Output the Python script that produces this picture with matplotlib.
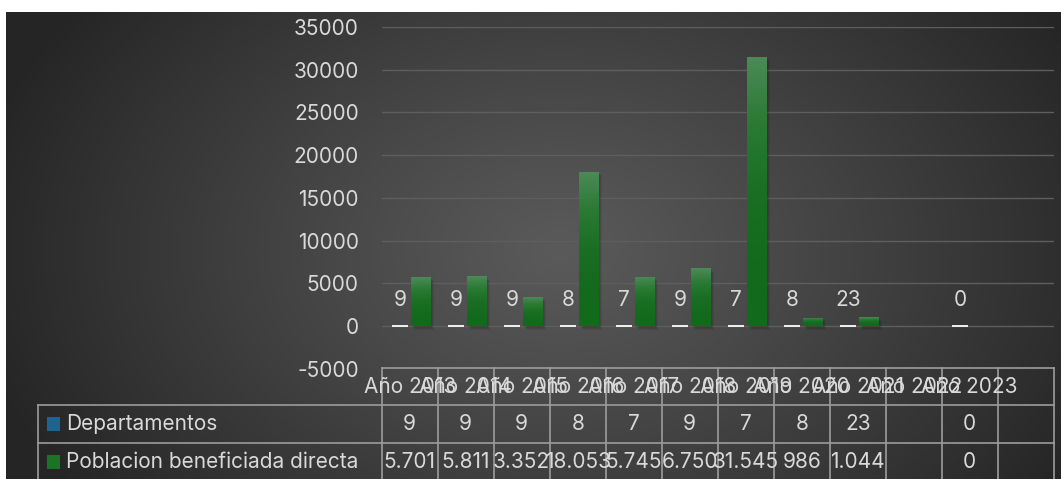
import numpy as np
import matplotlib
matplotlib.use('Agg')
import matplotlib.pyplot as plt
from matplotlib.transforms import blended_transform_factory, offset_copy
from matplotlib.patches import Rectangle
from matplotlib.colors import to_rgb

# ---------------- data ----------------
categories = ['Año 2013', 'Año 2014', 'Año 2015', 'Año 2016', 'Año 2017', 'Año 2018',
              'Año 2019', 'Año 2020', 'Año 2021', 'Año 2022', 'Año 2023', '']
departamentos = [9, 9, 9, 8, 7, 9, 7, 8, 23, np.nan, 0, np.nan]
poblacion = [5701, 5811, 3352, 18053, 5745, 6750, 31545, 986, 1044, np.nan, 0, np.nan]
series_names = ['Departamentos', 'Poblacion beneficiada directa']
yticks = [-5000, 0, 5000, 10000, 15000, 20000, 25000, 30000, 35000]

# ---------------- style ----------------
plt.rcParams['font.family'] = ['Inter', 'DejaVu Sans']
plt.rcParams['axes.unicode_minus'] = False
TXT = '#d9d9d9'
FS = 15
BLUE = '#1f6391'
GREEN = '#1a7424'
GRID = '#5e5e5e'
TLINE = '#9c9c9c'

W, H = 1061, 479
fig = plt.figure(figsize=(W / 100, H / 100), dpi=100)
fig.patch.set_facecolor('white')

# background (pixel coordinates, y downward)
bg = fig.add_axes([0, 0, 1, 1], zorder=0)
bg.set_xlim(0, W)
bg.set_ylim(H, 0)
bg.axis('off')
yy, xx = np.mgrid[12:H, 6:W].astype(float)
r = np.sqrt(((xx - 560) / 600.0) ** 2 + ((yy - 250) / 420.0) ** 2)
r = np.clip(r, 0, 1) ** 1.1
c0 = np.array(to_rgb('#5a5a5a'))
c1 = np.array(to_rgb('#252525'))
img = c0[None, None, :] + (c1 - c0)[None, None, :] * r[..., None]
bg.imshow(img, extent=(6, W, H, 12), origin='upper', aspect='auto', interpolation='bilinear')
bg.set_xlim(0, W)
bg.set_ylim(H, 0)

# main plot axes
L, R, T0, B0 = 381.7, 1053.7, 27.0, 368.7
ax = fig.add_axes([L / W, (H - B0) / H, (R - L) / W, (B0 - T0) / H], zorder=1)
ax.patch.set_alpha(0)
n = len(categories)
x = np.arange(n)
ax.set_xlim(-0.5, n - 0.5)
ax.set_ylim(-5000, 35000)
ax.set_yticks(yticks)
ax.set_xticks([])
for s in ax.spines.values():
    s.set_visible(False)
ax.tick_params(axis='y', length=0, pad=16.5, labelsize=FS, labelcolor=TXT)
ax.yaxis.grid(True, color=GRID, lw=1.0)
ax.set_axisbelow(True)

# Departamentos bars (tiny values)
dep_bars = ax.bar(x - 0.175, departamentos, 0.29, color=BLUE, edgecolor='#f2f2f2', lw=1.4, zorder=3)

# Poblacion bars with gradient + shadow
pob_bars = ax.bar(x + 0.193, poblacion, 0.34, color=GREEN, lw=0, zorder=3)
grad_cols = np.array([to_rgb('#4d8a58'), to_rgb('#2a7a34'), to_rgb('#1a6f24'),
                      to_rgb('#146a1d'), to_rgb('#126a1b')])
N = 200
t = np.linspace(0, 1, N)
pos = np.linspace(0, 1, len(grad_cols))
grad = np.stack([np.interp(t, pos, grad_cols[:, k]) for k in range(3)], axis=-1)[:, None, :]
for b in pob_bars:
    h = b.get_height()
    if not np.isfinite(h) or h <= 0:
        continue
    x0, w = b.get_x(), b.get_width()
    for k in range(1, 5):
        sh = Rectangle((x0, 0), w, h, facecolor='black', alpha=0.07, lw=0,
                       transform=offset_copy(ax.transData, fig, x=k * 0.9, y=-k * 0.9, units='dots'),
                       zorder=2.5)
        ax.add_patch(sh)
    im = ax.imshow(grad, extent=(x0, x0 + w, 0, h), origin='upper', aspect='auto',
                   interpolation='bilinear', zorder=3.1)
    im.set_clip_path(b)
ax.set_xlim(-0.5, n - 0.5)
ax.set_ylim(-5000, 35000)
ax.set_aspect('auto')

# data labels for Departamentos
for xi, v in zip(x, departamentos):
    if np.isfinite(v):
        ax.annotate(str(int(v)), (xi - 0.175, v), xytext=(0, 18.7), textcoords='offset points',
                    ha='center', va='center', color=TXT, fontsize=FS, zorder=4)

# ---------------- data table ----------------
ov = fig.add_axes([0, 0, 1, 1], zorder=2)
ov.set_xlim(0, W)
ov.set_ylim(H, 0)
ov.axis('off')
TT = blended_transform_factory(ax.transData, ov.transData)

y_top, y_r1, y_r2, y_bot = 368.0, 405.0, 443.0, 481.0
lw_t = 1.2
# header top line and verticals
ax.plot([-0.5, n - 0.5], [y_top, y_top], transform=TT, color=TLINE, lw=lw_t, clip_on=False, zorder=5)
for i in range(n + 1):
    ax.plot([i - 0.5, i - 0.5], [y_top, y_bot], transform=TT, color=TLINE, lw=lw_t,
            clip_on=False, zorder=5)
for yv in (y_r1, y_r2, y_bot):
    ov.plot([38, L], [yv, yv], color=TLINE, lw=lw_t, clip_on=False)
    ax.plot([-0.5, n - 0.5], [yv, yv], transform=TT, color=TLINE, lw=lw_t, clip_on=False, zorder=5)
ov.plot([38, 38], [y_r1, y_bot], color=TLINE, lw=lw_t, clip_on=False)

# header labels
for xi, c in zip(x, categories):
    ax.text(xi, 387, c, transform=TT, ha='center', va='center', color=TXT, fontsize=FS,
            clip_on=False, zorder=6)


def fmt_pob(v):
    if not np.isfinite(v):
        return ''
    return f"{int(v):,}".replace(',', '.')


def fmt_dep(v):
    return '' if not np.isfinite(v) else str(int(v))


rows = [(departamentos, fmt_dep, 424, BLUE), (poblacion, fmt_pob, 462, GREEN)]
for (vals, f, yc, col), name in zip(rows, series_names):
    ov.add_patch(Rectangle((47, yc - 7), 13, 14, facecolor=col, lw=0))
    ov.text(66, yc, name, ha='left', va='center', color=TXT, fontsize=FS)
    for xi, v in zip(x, vals):
        ax.text(xi, yc, f(v), transform=TT, ha='center', va='center', color=TXT, fontsize=FS,
                clip_on=False, zorder=6)

fig.savefig('out.png', dpi=100, facecolor='white')
